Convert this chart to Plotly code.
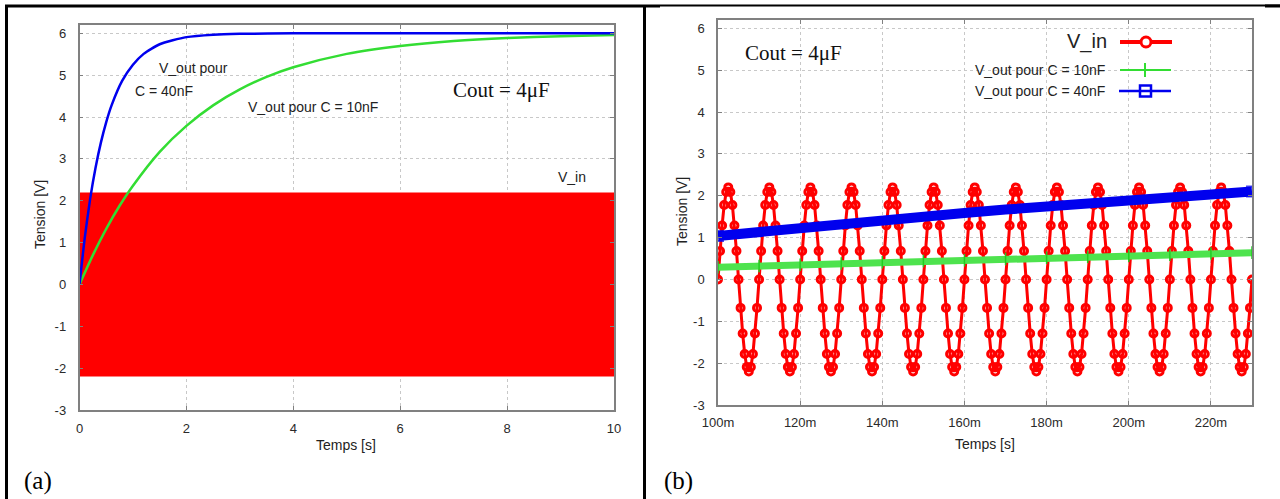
import plotly.graph_objects as go

# ---------------- Panel (a) data : 0 .. 10 s ----------------
t_a_vin = [0, 10]
vin_a_high = [2.2, 2.2]      # envelope of the fast V_in sine (fills as a band)
vin_a_low = [-2.2, -2.2]

t_a_40 = [0, 0.1, 0.2, 0.3, 0.4, 0.5, 0.6, 0.8, 1.0, 1.2, 1.5, 2.0, 2.5, 3.0, 4.0, 6.0, 8.0, 10.0]
v_a_40 = [0, 1.13, 2.05, 2.79, 3.39, 3.88, 4.28, 4.87, 5.25, 5.51, 5.74, 5.91, 5.97, 5.99, 6.0, 6.0, 6.0, 6.0]

t_a_10 = [0, 0.25, 0.5, 0.75, 1.0, 1.5, 2.0, 2.5, 3.0, 3.5, 4.0, 5.0, 6.0, 7.0, 8.0, 9.0, 10.0]
v_a_10 = [0, 0.70, 1.33, 1.88, 2.36, 3.17, 3.79, 4.28, 4.66, 4.96, 5.19, 5.51, 5.70, 5.82, 5.89, 5.93, 5.96]

# ---------------- Panel (b) data : 100 .. 230 ms ----------------
vin_b_period = [0, 0.68, 1.29, 1.78, 2.09, 2.2, 2.09, 1.78, 1.29, 0.68,
                0, -0.68, -1.29, -1.78, -2.09, -2.2, -2.09, -1.78, -1.29, -0.68]
vin_b_step = 0.0005
vin_b_count = 261
t_b_vin = [round(0.1 + vin_b_step * i, 5) for i in range(vin_b_count)]
v_b_vin = (vin_b_period * 14)[:vin_b_count]

t_b_out = [0.10, 0.11, 0.12, 0.13, 0.14, 0.15, 0.16, 0.17, 0.18, 0.19, 0.20, 0.21, 0.22, 0.23]
v_b_40 = [1.04, 1.14, 1.24, 1.33, 1.42, 1.51, 1.59, 1.67, 1.75, 1.82, 1.89, 1.96, 2.03, 2.10]
v_b_10 = [0.29, 0.32, 0.35, 0.38, 0.41, 0.44, 0.46, 0.49, 0.52, 0.54, 0.57, 0.59, 0.62, 0.64]

y_ticks = [-3, -2, -1, 0, 1, 2, 3, 4, 5, 6]
y_ticktext = ["-3", "-2", "-1", "0", "1", "2", "3", "4", "5", "6"]
x_ticks_a = [0, 2, 4, 6, 8, 10]
x_ticks_b = [0.10, 0.12, 0.14, 0.16, 0.18, 0.20, 0.22]
x_ticktext_b = ["100m", "120m", "140m", "160m", "180m", "200m", "220m"]

W, H = 1280, 499
RED = "#ff0000"
GREEN = "#33dd33"
BLUE = "#0000ee"
SANS = "Liberation Sans, Arial, sans-serif"
SERIF = "Liberation Serif, Times New Roman, serif"


def px(x):
    return x / W


def py(y):
    return 1 - y / H


fig = go.Figure()

# ---- (a) traces ----
fig.add_trace(go.Scatter(x=t_a_vin, y=vin_a_low, mode="lines", line=dict(width=0, color=RED),
                         xaxis="x", yaxis="y", showlegend=False))
fig.add_trace(go.Scatter(x=t_a_vin, y=vin_a_high, mode="lines", line=dict(width=0, color=RED),
                         fill="tonexty", fillcolor=RED, xaxis="x", yaxis="y", showlegend=False))
fig.add_trace(go.Scatter(x=t_a_10, y=v_a_10, mode="lines", line=dict(width=2.5, color=GREEN, shape="spline", smoothing=0.8),
                         xaxis="x", yaxis="y", showlegend=False))
fig.add_trace(go.Scatter(x=t_a_40, y=v_a_40, mode="lines", line=dict(width=2.5, color=BLUE, shape="spline", smoothing=0.6),
                         xaxis="x", yaxis="y", showlegend=False))

# ---- (b) traces ----
fig.add_trace(go.Scatter(x=t_b_vin, y=v_b_vin, mode="lines+markers",
                         line=dict(width=3, color=RED),
                         marker=dict(symbol="circle-open", size=7, color=RED, line=dict(width=3, color=RED)),
                         xaxis="x2", yaxis="y2", showlegend=False))
fig.add_trace(go.Scatter(x=t_b_out, y=v_b_10, mode="lines+markers",
                         line=dict(width=7, color="#4ee34e"),
                         marker=dict(symbol="line-ns", size=9, line=dict(width=1.5, color="#22cc22")),
                         xaxis="x2", yaxis="y2", showlegend=False))
end_sizes = [10] + [0] * (len(t_b_out) - 2) + [10]
fig.add_trace(go.Scatter(x=t_b_out, y=v_b_40, mode="lines+markers",
                         line=dict(width=10, color=BLUE),
                         marker=dict(symbol="square-open", size=end_sizes, color=BLUE, line=dict(width=2, color=BLUE)),
                         xaxis="x2", yaxis="y2", showlegend=False))

axis_common = dict(
    showgrid=True, gridcolor="#c8c8c8", griddash="dot", gridwidth=1,
    zeroline=False, showline=True, linecolor="#808080", linewidth=1.5, mirror="ticks",
    ticks="inside", ticklen=4, tickcolor="#808080", automargin=False,
    tickfont=dict(family=SANS, size=13, color="#2a2a2a"),
)

fig.update_layout(
    width=W, height=H, autosize=False,
    margin=dict(l=0, r=0, t=0, b=0, pad=0, autoexpand=False),
    paper_bgcolor="white", plot_bgcolor="white",
    xaxis=dict(domain=[px(79.5), px(614)], range=[0, 10], tickvals=x_ticks_a,
               ticklabelstandoff=6, anchor="y", **axis_common),
    yaxis=dict(domain=[py(410), py(25)], range=[-3, 6.2], tickvals=y_ticks, ticktext=y_ticktext,
               ticklabelstandoff=9, anchor="x", **axis_common),
    xaxis2=dict(domain=[px(718), px(1252)], range=[0.1, 0.23], tickvals=x_ticks_b, ticktext=x_ticktext_b,
                ticklabelstandoff=5, anchor="y2", **axis_common),
    yaxis2=dict(domain=[py(405), py(20)], range=[-3, 6.2], tickvals=y_ticks, ticktext=y_ticktext,
                ticklabelstandoff=9, anchor="x2", **axis_common),
)

ann = []


def text(x, y, s, size=14, family=SANS, xanchor="left", angle=0, color="#222222"):
    ann.append(dict(x=px(x), y=py(y), xref="paper", yref="paper", text=s, showarrow=False,
                    xanchor=xanchor, yanchor="middle", textangle=angle,
                    font=dict(family=family, size=size, color=color)))


# axis titles
text(40, 215, "Tension [V]", size=14, xanchor="center", angle=-90)
text(346, 445, "Temps [s]", size=14, xanchor="center")
text(682, 212, "Tension [V]", size=14, xanchor="center", angle=-90)
text(985, 444, "Temps [s]", size=14, xanchor="center")

# panel (a) labels
text(157, 68, "V_out pour", size=14)
text(133, 91, "C = 40nF", size=14)
text(246, 107, "V_out pour C = 10nF", size=14)
text(451, 90, "Cout = 4\u03bcF", size=21, family=SERIF, color="#111111")
text(556, 177, "V_in", size=14)

# panel (b) labels
text(743, 53, "Cout = 4\u03bcF", size=21, family=SERIF, color="#111111")
text(1109, 42, "V_in", size=20, xanchor="right")
text(1107, 70, "V_out pour C = 10nF", size=14, xanchor="right")
text(1107, 91, "V_out pour C = 40nF", size=14, xanchor="right")

# sub-figure letters
text(22, 481, "(a)", size=25, family=SERIF, color="#000000")
text(662, 481, "(b)", size=25, family=SERIF, color="#000000")

shapes = []


def seg(x0, y0, x1, y1, color="black", width=2):
    shapes.append(dict(type="line", xref="paper", yref="paper", x0=px(x0), y0=py(y0), x1=px(x1), y1=py(y1),
                       line=dict(color=color, width=width)))


# page frame
seg(5, 6, 660, 6, width=3)
seg(660, 5.5, 1280, 5.5, width=2)
seg(1265, 6, 1280, 6, width=3)
seg(6.5, 5, 6.5, 499, width=3)
seg(644.5, 5, 644.5, 499, width=3)

# manual legend samples (panel b)
seg(1120, 42, 1172, 42, color=RED, width=4)
shapes.append(dict(type="circle", xref="paper", yref="paper", x0=px(1141), x1=px(1151), y0=py(47), y1=py(37),
                   line=dict(color=RED, width=3), fillcolor="white"))
seg(1120, 70, 1171, 70, color=GREEN, width=2)
seg(1145, 63, 1145, 77, color=GREEN, width=2)
seg(1119, 91, 1171, 91, color=BLUE, width=2.5)
shapes.append(dict(type="rect", xref="paper", yref="paper", x0=px(1140), x1=px(1151), y0=py(96.5), y1=py(85.5),
                   line=dict(color=BLUE, width=2.5)))

fig.update_layout(annotations=ann, shapes=shapes)

fig.write_html("out.html", config={"responsive": False, "displayModeBar": False},
               post_script="document.body.style.margin='0px';document.body.style.overflow='hidden';")
